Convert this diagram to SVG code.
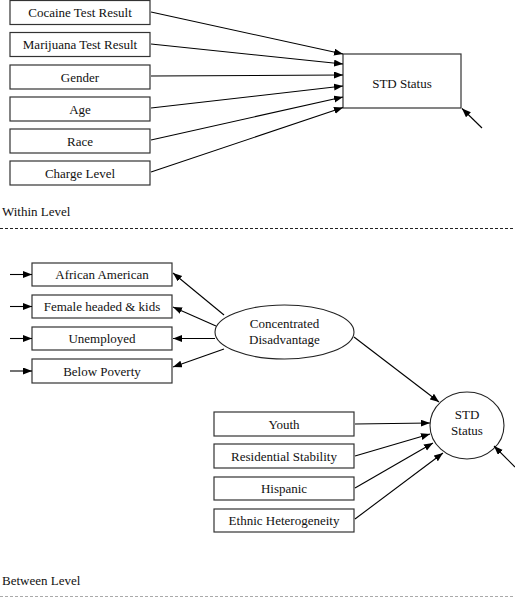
<svg xmlns="http://www.w3.org/2000/svg" width="515" height="599" viewBox="0 0 515 599">
<style>
.box{fill:#fff;stroke:#333;stroke-width:1.2}
.t{font-family:"Liberation Serif","Times New Roman",serif;font-size:13px;fill:#111;text-anchor:middle}
.lab{font-family:"Liberation Serif","Times New Roman",serif;font-size:13px;fill:#111}
.c{stroke:#000;stroke-width:1.1;fill:none;marker-end:url(#ah)}
</style>
<defs>
<marker id="ah" markerUnits="userSpaceOnUse" markerWidth="10" markerHeight="8" refX="9" refY="3.5" orient="auto">
<path d="M0,0 L9,3.5 L0,7 z" fill="#000"/>
</marker>
</defs>
<rect width="515" height="599" fill="#fff"/>

<g id="cocaine"><rect class="box" x="10" y="0.5" width="140" height="24"/><text class="t" x="80" y="17">Cocaine Test Result</text></g>
<g id="marijuana"><rect class="box" x="10" y="32.5" width="140" height="24"/><text class="t" x="80" y="49">Marijuana Test Result</text></g>
<g id="gender"><rect class="box" x="10" y="65" width="140" height="24"/><text class="t" x="80" y="81.5">Gender</text></g>
<g id="age"><rect class="box" x="10" y="97" width="140" height="24"/><text class="t" x="80" y="113.5">Age</text></g>
<g id="race"><rect class="box" x="10" y="129" width="140" height="24"/><text class="t" x="80" y="145.5">Race</text></g>
<g id="charge"><rect class="box" x="10" y="161" width="140" height="24"/><text class="t" x="80" y="177.5">Charge Level</text></g>
<g id="std_within"><rect class="box" x="343" y="54" width="118" height="54"/><text class="t" x="402" y="88">STD Status</text></g>

<g id="labels">
<text class="lab" x="2" y="216">Within Level</text>
<line x1="0" y1="228.5" x2="515" y2="228.5" stroke="#222" stroke-width="1" stroke-dasharray="3,2"/>
<text class="lab" x="2" y="585">Between Level</text>
<line x1="0" y1="596.5" x2="515" y2="596.5" stroke="#aaa" stroke-width="1" stroke-dasharray="3,2"/>
</g>

<g id="aa"><rect class="box" x="32" y="263" width="140" height="23"/><text class="t" x="102" y="279">African American</text></g>
<g id="fh"><rect class="box" x="32" y="295" width="140" height="23"/><text class="t" x="102" y="311">Female headed &amp; kids</text></g>
<g id="unemp"><rect class="box" x="32" y="327" width="140" height="23"/><text class="t" x="102" y="343">Unemployed</text></g>
<g id="pov"><rect class="box" x="32" y="359" width="140" height="24"/><text class="t" x="102" y="375.5">Below Poverty</text></g>
<g id="cd"><ellipse cx="284.5" cy="332" rx="69.5" ry="27" fill="#fff" stroke="#222" stroke-width="1.1"/><text class="t" x="284.5" y="328">Concentrated</text><text class="t" x="284.5" y="343.5">Disadvantage</text></g>

<g id="youth"><rect class="box" x="214" y="412" width="140" height="24"/><text class="t" x="284" y="428.5">Youth</text></g>
<g id="resid"><rect class="box" x="214" y="444" width="140" height="24"/><text class="t" x="284" y="460.5">Residential Stability</text></g>
<g id="hisp"><rect class="box" x="214" y="477" width="140" height="23"/><text class="t" x="284" y="493">Hispanic</text></g>
<g id="ethnic"><rect class="box" x="214" y="509" width="140" height="23"/><text class="t" x="284" y="525">Ethnic Heterogeneity</text></g>
<g id="std_between"><ellipse cx="467" cy="425.5" rx="37" ry="33.5" fill="#fff" stroke="#222" stroke-width="1.1"/><text class="t" x="467" y="419">STD</text><text class="t" x="467" y="435">Status</text></g>

<g id="connectors">
<line class="c" x1="151" y1="12" x2="343" y2="54"/>
<line class="c" x1="151" y1="44" x2="343" y2="64"/>
<line class="c" x1="151" y1="76" x2="343" y2="75"/>
<line class="c" x1="151" y1="108" x2="343" y2="86"/>
<line class="c" x1="151" y1="140" x2="343" y2="97"/>
<line class="c" x1="151" y1="172" x2="343" y2="107.5"/>
<line class="c" x1="482" y1="128" x2="462" y2="108.5"/>

<line class="c" x1="10" y1="274.5" x2="32" y2="274.5"/>
<line class="c" x1="10" y1="306.5" x2="32" y2="306.5"/>
<line class="c" x1="10" y1="338.5" x2="32" y2="338.5"/>
<line class="c" x1="10" y1="371" x2="32" y2="371"/>

<line class="c" x1="224" y1="315" x2="173" y2="273"/>
<line class="c" x1="216" y1="326" x2="173" y2="307"/>
<line class="c" x1="215" y1="338.5" x2="173" y2="338.5"/>
<line class="c" x1="224" y1="349" x2="173" y2="367"/>

<line class="c" x1="354" y1="337" x2="439" y2="402"/>
<line class="c" x1="355" y1="424" x2="430" y2="423"/>
<line class="c" x1="355" y1="456" x2="430" y2="434"/>
<line class="c" x1="355" y1="488" x2="433" y2="443"/>
<line class="c" x1="355" y1="519" x2="443" y2="453"/>
<line class="c" x1="515" y1="467" x2="494" y2="446"/>
</g>
</svg>
